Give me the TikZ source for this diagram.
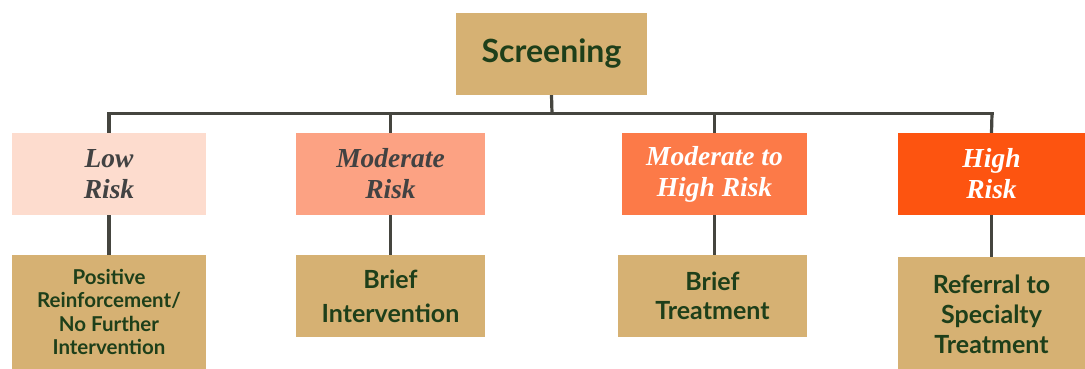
\documentclass[tikz,border=0pt]{standalone}
\usepackage{fontspec}
\setmainfont{Liberation Serif}
\newfontfamily\boxfont{Lato}
\definecolor{tan}{HTML}{D6B173}
\definecolor{darkgreen}{HTML}{1E3F1A}
\definecolor{lowc}{HTML}{FDDCCE}
\definecolor{modc}{HTML}{FCA283}
\definecolor{mhc}{HTML}{FC7A48}
\definecolor{highc}{HTML}{FD5410}
\definecolor{linec}{HTML}{45453F}
\definecolor{riskdark}{HTML}{424242}
\tikzset{
  tanbox/.style={fill=tan, draw=none, text=darkgreen, align=center, inner sep=0pt},
  riskbox/.style={draw=none, align=center, inner sep=0pt,
    minimum width=190pt, minimum height=82pt,
    font=\fontsize{27.5}{31}\selectfont\bfseries\itshape},
  conn/.style={draw=linec, line width=3.2pt}
}
\begin{document}
\begin{tikzpicture}[x=1pt,y=-1pt]
\useasboundingbox (0,0) rectangle (1085,369);
% top
\node[tanbox, minimum width=191pt, minimum height=82pt,
  font=\boxfont\bfseries\fontsize{32}{36}\selectfont] (scr) at (551.5,54) {Screening};
% risk row
\node[riskbox, fill=lowc, text=riskdark, minimum width=194pt] (low) at (109,174) {Low\\Risk};
\node[riskbox, fill=modc, text=riskdark, minimum width=189pt] (mod) at (390.5,174) {Moderate\\Risk};
\node[riskbox, fill=mhc, text=white, minimum width=185pt] (mh) at (714.5,174) {Moderate to\\High Risk};
\node[riskbox, fill=highc, text=white, minimum width=188pt] (high) at (991.5,174) {High\\Risk};
% action row
\node[tanbox, minimum width=194pt, minimum height=114pt,
  font=\boxfont\bfseries\fontsize{20.5}{23.3}\selectfont] (pos) at (109,312) {Positive\\Reinforcement/\\No Further\\Intervention};
\node[tanbox, minimum width=189pt, minimum height=82pt,
  font=\boxfont\bfseries\fontsize{25}{34}\selectfont] (bi) at (390.5,296) {Brief\\Intervention};
\node[tanbox, minimum width=189pt, minimum height=82pt,
  font=\boxfont\bfseries\fontsize{25}{29}\selectfont] (bt) at (712.5,296) {Brief\\Treatment};
\node[tanbox, minimum width=188pt, minimum height=114pt,
  font=\boxfont\bfseries\fontsize{25}{30}\selectfont] (ref) at (991.5,314) {Referral to\\Specialty\\Treatment};
% connectors
\coordinate (hl) at (109,113.5);
\coordinate (hr) at (992,113.5);
\coordinate (hm) at (552,113.5);
\draw[conn] (scr.south) -- (hm);
\draw[conn, line cap=rect] (hl) -- (hr);
\draw[conn] (hl) -- (low.north);
\draw[conn] (mod.north |- hm) -- (mod.north);
\draw[conn] (mh.north |- hm) -- (mh.north);
\draw[conn] (hr) -- (high.north);
\draw[conn] (low.south) -- (pos.north -| low.south);
\draw[conn] (mod.south) -- (bi.north -| mod.south);
\draw[conn] (mh.south) -- (bt.north -| mh.south);
\draw[conn] (high.south) -- (ref.north -| high.south);
\end{tikzpicture}
\end{document}
